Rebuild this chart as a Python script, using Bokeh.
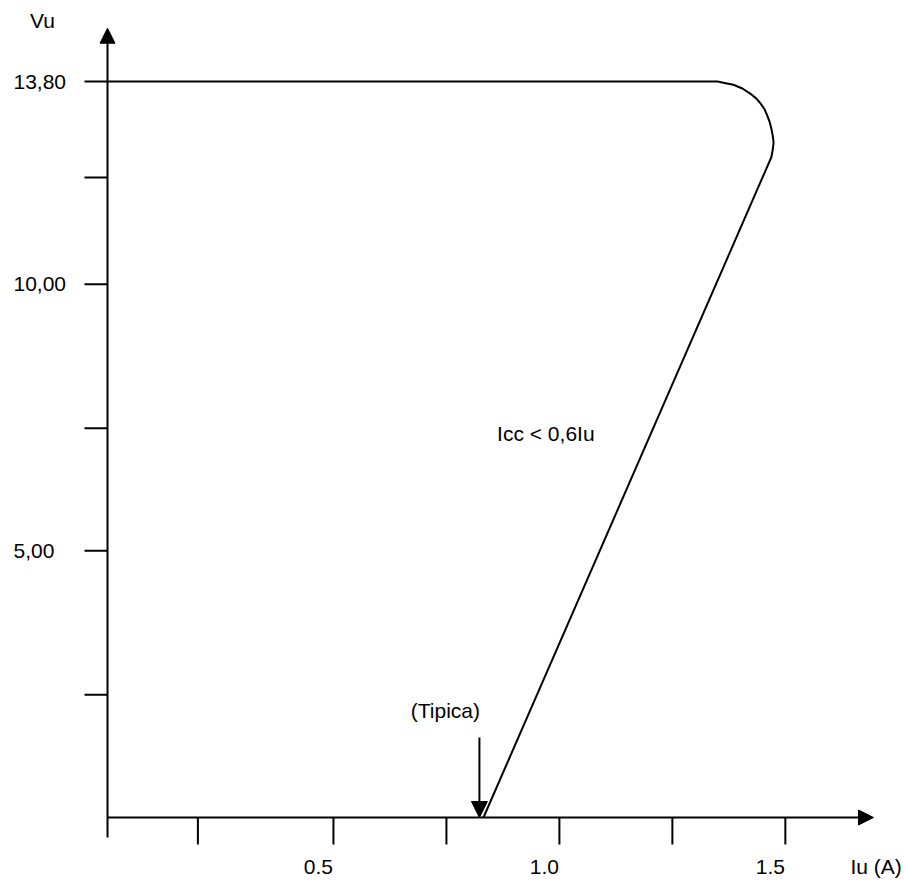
from bokeh.plotting import figure
from bokeh.models import ColumnDataSource, Arrow, NormalHead, Range1d
from bokeh.core.properties import value
from bokeh.embed import file_html
from bokeh.resources import INLINE

# ---------------- data ----------------
# characteristic curve Vu vs Iu (A)
curve_iu = [0.0, 1.350, 1.368, 1.385, 1.405, 1.423, 1.436, 1.445, 1.454, 1.460,
            1.465, 1.469, 1.472, 1.474, 1.472, 1.469, 0.832]
curve_vu = [13.8, 13.8, 13.77, 13.74, 13.67, 13.57, 13.48, 13.39, 13.28, 13.16,
            13.05, 12.92, 12.79, 12.66, 12.52, 12.38, 0.0]

# y ticks (labelled and unlabelled)
y_tick_values = [2.3, 5.0, 7.3, 10.0, 12.0, 13.8]
y_label_values = [13.8, 10.0, 5.0]
y_label_texts = ["13,80", "10,00", "5,00"]

# x ticks
x_tick_values = [0.2, 0.5, 0.75, 1.0, 1.25, 1.5]
x_label_values = [0.5, 1.0, 1.5]
x_label_texts = ["0.5", "1.0", "1.5"]

# axis extents
x_axis_end = 1.695
y_axis_end = 14.80
y_axis_below = -0.375

# "typical" arrow position
typ_iu = 0.823
typ_top = 1.5

# annotation text
note_iu = 0.97
note_vu = 7.2
note_text = "Icc < 0,6Iu"

# ---------------- layout ----------------
W, H = 905, 881
SX, SY = 451.9, 53.33          # px per data unit
OX, OY = 107, 64               # data origin in canvas px (from left / from bottom)
X0 = -OX / SX
Y0 = -OY / SY

p = figure(width=W, height=H, output_backend="svg", toolbar_location=None,
           x_range=Range1d(X0, X0 + W / SX), y_range=Range1d(Y0, Y0 + H / SY),
           min_border=0)
p.axis.visible = False
p.grid.visible = False
p.outline_line_color = None
p.background_fill_color = "white"
p.border_fill_color = "white"

FONT = value("Liberation Sans")
FS = "21px"
LW = 2

# axes as arrows
p.add_layout(Arrow(end=NormalHead(size=15, fill_color="black", line_color="black", line_width=1),
                   x_start=0, y_start=0, x_end=x_axis_end, y_end=0,
                   line_color="black", line_width=LW))
p.add_layout(Arrow(end=NormalHead(size=15, fill_color="black", line_color="black", line_width=1),
                   x_start=0, y_start=y_axis_below, x_end=0, y_end=y_axis_end,
                   line_color="black", line_width=LW))

# y ticks (pointing left)
ytl = 23 / SX
p.segment(x0=[-ytl] * len(y_tick_values), y0=y_tick_values,
          x1=[0] * len(y_tick_values), y1=y_tick_values,
          line_color="black", line_width=LW)

# x ticks (pointing down)
xtl = 27 / SY
p.segment(x0=x_tick_values, y0=[0] * len(x_tick_values),
          x1=x_tick_values, y1=[-xtl] * len(x_tick_values),
          line_color="black", line_width=LW)

# curve
p.line(curve_iu, curve_vu, line_color="black", line_width=LW, line_join="round")

# typical arrow
p.add_layout(Arrow(end=NormalHead(size=16, fill_color="black", line_color="black", line_width=1),
                   x_start=typ_iu, y_start=typ_top, x_end=typ_iu, y_end=0,
                   line_color="black", line_width=LW))

# labels
ysrc = ColumnDataSource(dict(x=[0] * len(y_label_values), y=y_label_values, t=y_label_texts))
p.text(x="x", y="y", text="t", source=ysrc, text_font=FONT, text_font_size=FS,
       text_align="left", text_baseline="middle", x_offset=-94, text_color="black")

xsrc = ColumnDataSource(dict(x=x_label_values, y=[0] * len(x_label_values), t=x_label_texts))
p.text(x="x", y="y", text="t", source=xsrc, text_font=FONT, text_font_size=FS,
       text_align="center", text_baseline="middle", x_offset=-15, y_offset=49, text_color="black")

p.text(x=[x_axis_end], y=[0], text=["Iu (A)"], text_font=FONT, text_font_size=FS,
       text_align="left", text_baseline="middle", x_offset=-23, y_offset=49, text_color="black")

p.text(x=[0], y=[y_axis_end], text=["Vu"], text_font=FONT, text_font_size=FS,
       text_align="center", text_baseline="middle", x_offset=-65, y_offset=-8, text_color="black")

p.text(x=[typ_iu], y=[typ_top], text=["(Tipica)"], text_font=FONT, text_font_size=FS,
       text_align="center", text_baseline="middle", x_offset=-34, y_offset=-27, text_color="black")

p.text(x=[note_iu], y=[note_vu], text=[note_text], text_font=FONT, text_font_size=FS,
       text_align="center", text_baseline="middle", text_color="black")

open("out.html", "w").write(file_html(p, INLINE))
